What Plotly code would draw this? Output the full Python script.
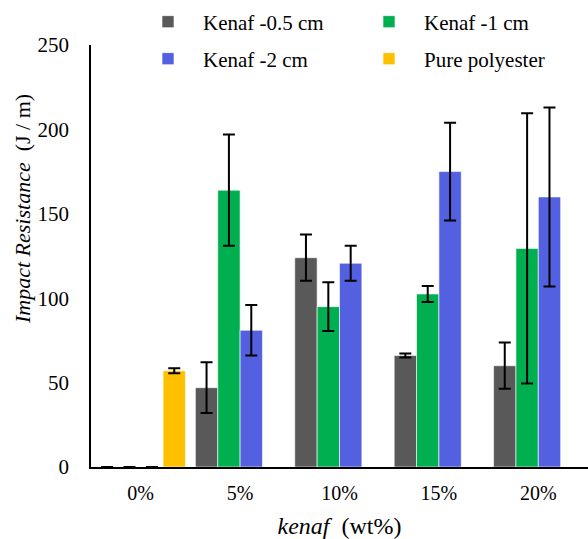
import plotly.graph_objects as go

categories = ["0%", "5%", "10%", "15%", "20%"]
series_names = ["Kenaf -0.5 cm", "Kenaf -1 cm", "Kenaf -2 cm", "Pure polyester"]
kenaf_05 = [0, 47, 124, 66, 60]
kenaf_05_err = [0, 15, 13.7, 1.2, 13.7]
kenaf_1 = [0, 164, 95, 102.5, 129.5]
kenaf_1_err = [0, 33, 14.4, 4.7, 80]
kenaf_2 = [0, 81, 120.7, 175, 160]
kenaf_2_err = [0, 15, 10.3, 29, 53]
polyester = [57, None, None, None, None]
polyester_err = [1.5, 0, 0, 0, 0]
colors = ["#595959", "#00B050", "#5361E0", "#FFC000"]
legends = ["legend", "legend2", "legend3", "legend4"]

values = [kenaf_05, kenaf_1, kenaf_2, polyester]
errors = [kenaf_05_err, kenaf_1_err, kenaf_2_err, polyester_err]

font = "Liberation Serif, Times New Roman, serif"

fig = go.Figure()
for name, vals, errs, col, lg in zip(series_names, values, errors, colors, legends):
    fig.add_trace(go.Bar(
        x=categories, y=vals, name=name, showlegend=True,
        marker=dict(color=col, line=dict(color="rgba(255,255,255,0.6)", width=1)),
        error_y=dict(type="data", array=errs, visible=True, color="black", thickness=2, width=6),
        legend=lg,
    ))

L, T, PW, PH = 91, 45, 497, 422


def leg(px, py):
    return dict(x=(px - L) / PW, y=1 + (T - py) / PH, xanchor="left", yanchor="middle",
                font=dict(size=21), itemwidth=60, bgcolor="rgba(0,0,0,0)")


fig.update_layout(
    width=588, height=539,
    showlegend=True,
    margin=dict(l=L, r=588 - L - PW, t=T, b=539 - T - PH),
    paper_bgcolor="white", plot_bgcolor="white",
    barmode="group", bargap=0.1, bargroupgap=0,
    font=dict(family=font, size=20, color="black"),
    legend=leg(133, 22),
    legend2=leg(354, 22),
    legend3=leg(133, 59),
    legend4=leg(354, 59),
    xaxis=dict(showline=True, linecolor="black", linewidth=1.5, ticks="",
               tickfont=dict(size=20), ticklabelstandoff=7, automargin=False,
               title=dict(text="<i>kenaf</i>&nbsp;&nbsp;(wt%)", font=dict(size=24), standoff=18)),
    yaxis=dict(range=[0, 250], dtick=50, showline=True, linecolor="black", linewidth=1.5,
               showgrid=False, zeroline=False, ticks="", ticklabelstandoff=16,
               tickfont=dict(size=21), automargin=False),
    annotations=[dict(text="<i>Impact Resistance</i>&nbsp;&nbsp;(J / m)", textangle=-90,
                      xref="paper", yref="paper", x=(22 - L) / PW, y=1 - (209 - T) / PH,
                      xanchor="center", yanchor="middle", showarrow=False,
                      font=dict(size=22))],
)

fig.write_html("out.html", post_script="document.body.style.margin='0px';",
               config={"displayModeBar": False})
